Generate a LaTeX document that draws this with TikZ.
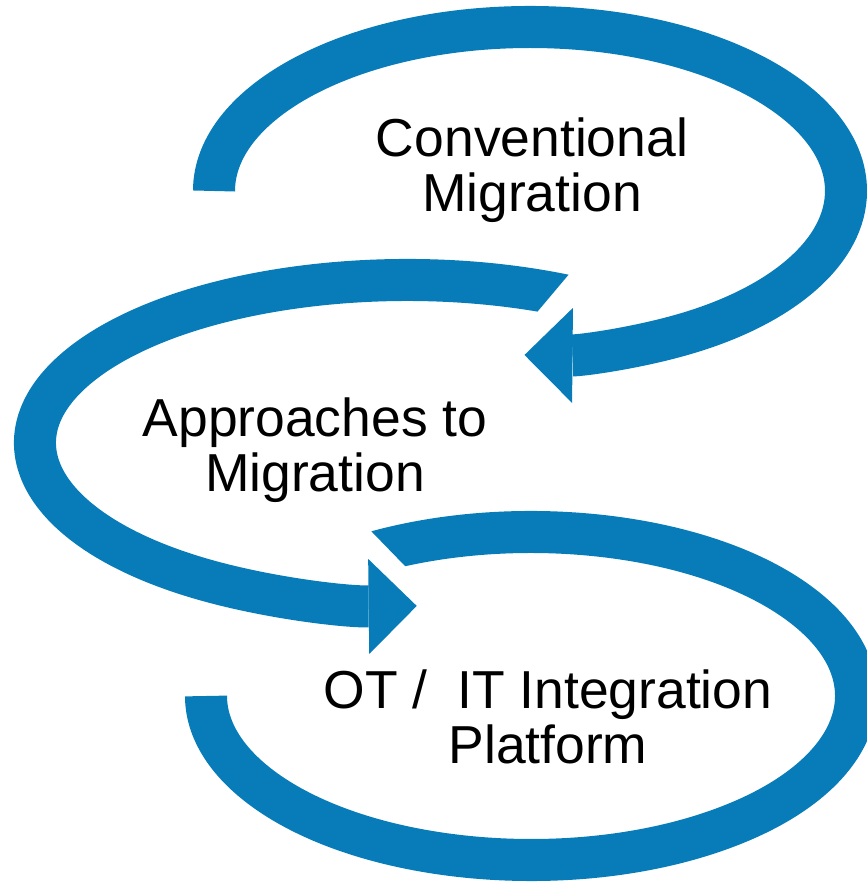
\documentclass[tikz,border=0pt]{standalone}
\usepackage{fontspec}
\setmainfont{Liberation Sans}
\usetikzlibrary{arrows.meta}
\definecolor{swirlblue}{HTML}{077CB9}
\tikzset{
  band/.style={draw=swirlblue,line width=0.42cm},
  bandtip/.style={band,-{Triangle[width=0.95cm,length=0.48cm,line width=0pt]}},
  lbl/.style={align=center,inner sep=0pt,font=\fontsize{15.2pt}{15.65pt}\selectfont}
}
\begin{document}
\begin{tikzpicture}[x=0.01cm,y=0.01cm]
  \useasboundingbox (0,0) rectangle (866,882);
  % top
  \coordinate (topc) at (530,691);
  \draw[bandtip] ([shift={(180:316 and 164)}]topc) arc[start angle=180,end angle=-91,x radius=316,y radius=164];
  \node[lbl,at={(532,712)}] (conv) {Conventional\\Migration};

  % middle
  \coordinate (midc) at (407,439);
  \begin{scope}
    %cut
    \clip (826,913) -- (442,457) -- (442,-10) -- (-10,-10) -- (-10,913) -- cycle;
    \draw[bandtip] ([shift={(58:372 and 163)}]midc) arc[start angle=58,end angle=271.5,x radius=372,y radius=163];
  \end{scope}
  \node[lbl,at={(315,432)}] (appr) {Approaches to\\Migration};

  % bottom
  \coordinate (botc) at (531,186);
  \begin{scope}
    %cut
    \clip (471,248) -- (-10,248) -- (-10,-10) -- (900,-10) -- (900,928) -- (-189,928) -- cycle;
    \draw[band] ([shift={(125:325 and 164)}]botc) arc[start angle=125,end angle=-180,x radius=325,y radius=164];
  \end{scope}
  \node[lbl,at={(548,165)}] (otit) {OT /\ \ IT Integration\\Platform};
\end{tikzpicture}
\end{document}
